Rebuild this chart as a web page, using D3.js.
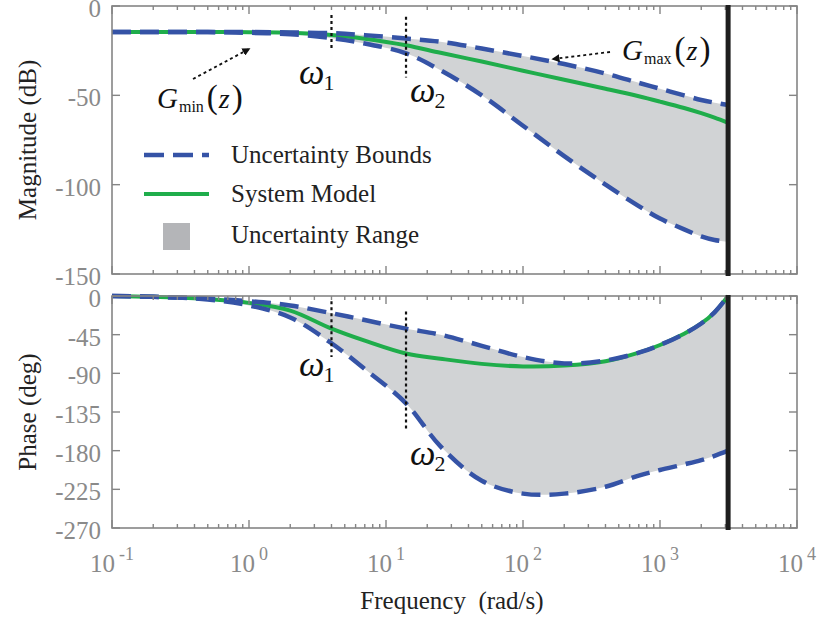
<!DOCTYPE html>
<html>
<head>
<meta charset="utf-8">
<script src="https://cdn.jsdelivr.net/npm/d3@7"></script>
<style>
  body { margin: 0; background: #fff; }
  svg { display: block; }
  svg text { font-family: "Liberation Serif", "Tinos", "Nimbus Roman", "FreeSerif", "Noto Serif", "DejaVu Serif", "Times", serif; }
</style>
</head>
<body>
<svg id="chart" width="817" height="619"></svg>
<script>
// Frequency samples (rad/s) for the Bode data
const freq = [0.1, 0.2, 0.5, 1, 2, 4, 7, 14, 25, 50, 100, 200, 400, 700, 1000, 1500, 2000, 2500, 3141.6];

// Magnitude (dB)
const magUpper = [-14.5, -14.5, -14.5, -14.6, -14.8, -15.2, -16.3, -18.2, -20, -23.8, -28, -32.5, -37.8, -43, -46.3, -50, -52.6, -54.1, -55.4];
const magModel = [-14.5, -14.5, -14.5, -14.7, -15, -16.2, -18.3, -22, -26.2, -31.1, -36.2, -41.3, -46.3, -50.5, -53.5, -57.1, -60, -62.5, -65.4];
const magLower = [-14.5, -14.5, -14.6, -15, -15.8, -18, -21, -26.5, -36, -50, -67, -84, -100, -112, -119, -125, -129, -131, -132];

// Phase (deg)
const phaseUpper = [0, -1, -3, -6, -11, -20, -28, -38, -45, -58, -71, -78.5, -75, -66, -57, -44, -32, -19, 0];
const phaseModel = [0, -1, -3.5, -8, -17, -38, -52, -67, -73, -79, -82, -81, -76, -66, -57, -44, -32, -19, 0];
const phaseLower = [0, -1, -4, -11, -25, -55, -85, -125, -175, -215, -230, -230, -222, -209, -202.5, -196, -191, -186, -180];

// Axis ticks
const magTicks = [0, -50, -100, -150];
const phaseTicks = [0, -45, -90, -135, -180, -225, -270];
const decades = [-1, 0, 1, 2, 3, 4];

// Marked frequencies
const nyquist = 3141.6;
const omega1 = 4;
const omega2 = 14;

const svg = d3.select("#chart");
const axisGray = "#858585";
const labelGray = "#8a8a8a";
const blue = "#3553a6";
const green = "#1fad4b";
const fillGray = "#d1d3d5";

const x = d3.scaleLog().domain([0.1, 1e4]).range([112, 797]);
const yMag = d3.scaleLinear().domain([-150, 0]).range([274, 6]);
const yPh = d3.scaleLinear().domain([-270, 0]).range([528, 296]);

const panels = [
  { y: yMag, upper: magUpper, model: magModel, lower: magLower, ticks: magTicks, title: "Magnitude (dB)" },
  { y: yPh, upper: phaseUpper, model: phaseModel, lower: phaseLower, ticks: phaseTicks, title: "Phase (deg)" }
];

const rows = freq.map((f, i) => ({ f, i }));
const smooth = d3.curveCatmullRom.alpha(0.5);

panels.forEach(p => {
  const [yBot, yTop] = p.y.range();
  const g = svg.append("g");

  // uncertainty band
  g.append("path")
    .datum(rows)
    .attr("fill", fillGray)
    .attr("d", d3.area()
      .curve(smooth)
      .x(d => x(d.f))
      .y0(d => p.y(p.lower[d.i]))
      .y1(d => p.y(p.upper[d.i])));

  // system model
  g.append("path")
    .datum(rows)
    .attr("fill", "none")
    .attr("stroke", green)
    .attr("stroke-width", 4)
    .attr("d", d3.line().curve(smooth).x(d => x(d.f)).y(d => p.y(p.model[d.i])));

  // bounds
  [p.upper, p.lower].forEach(arr => {
    g.append("path")
      .datum(rows)
      .attr("fill", "none")
      .attr("stroke", blue)
      .attr("stroke-width", 4.5)
      .attr("stroke-dasharray", "19,9")
      .attr("d", d3.line().curve(smooth).x(d => x(d.f)).y(d => p.y(arr[d.i])));
  });

  // frame
  g.append("rect")
    .attr("x", x.range()[0]).attr("y", yTop)
    .attr("width", x.range()[1] - x.range()[0]).attr("height", yBot - yTop)
    .attr("fill", "none").attr("stroke", axisGray).attr("stroke-width", 1.6);

  // x ticks (top and bottom, inside)
  const minor = [];
  decades.forEach(k => {
    for (let m = 1; m <= 9; m++) {
      const v = m * Math.pow(10, k);
      if (v >= 0.1 && v <= 1e4) minor.push({ v, major: m === 1 });
    }
  });
  minor.forEach(t => {
    const len = t.major ? 8 : 4;
    const xx = x(t.v);
    g.append("line").attr("x1", xx).attr("x2", xx).attr("y1", yBot).attr("y2", yBot - len)
      .attr("stroke", axisGray).attr("stroke-width", 1.4);
    g.append("line").attr("x1", xx).attr("x2", xx).attr("y1", yTop).attr("y2", yTop + len)
      .attr("stroke", axisGray).attr("stroke-width", 1.4);
  });

  // y ticks and labels
  p.ticks.forEach(t => {
    const yy = p.y(t);
    g.append("line").attr("x1", 112).attr("x2", 120).attr("y1", yy).attr("y2", yy)
      .attr("stroke", axisGray).attr("stroke-width", 1.4);
    g.append("line").attr("x1", 797).attr("x2", 789).attr("y1", yy).attr("y2", yy)
      .attr("stroke", axisGray).attr("stroke-width", 1.4);
    g.append("text").attr("x", 101).attr("y", yy + 11)
      .attr("text-anchor", "end").attr("font-size", 25).attr("fill", labelGray)
      .text(t);
  });

  // axis title
  svg.append("text")
    .attr("transform", `translate(36,${(yTop + yBot) / 2}) rotate(-90)`)
    .attr("text-anchor", "middle").attr("font-size", 25).attr("fill", "#222")
    .text(p.title);

  // Nyquist line
  g.append("line")
    .attr("x1", x(nyquist)).attr("x2", x(nyquist))
    .attr("y1", yTop - 1).attr("y2", yBot + 2)
    .attr("stroke", "#1e1e1e").attr("stroke-width", 5);
});

// x tick labels (decades)
decades.forEach(k => {
  const t = svg.append("text")
    .attr("y", 572).attr("font-size", 25).attr("fill", labelGray)
    .attr("text-anchor", "middle")
    .attr("x", x(Math.pow(10, k)));
  t.append("tspan").text("10");
  t.append("tspan").attr("dx", 4).attr("dy", -12).attr("font-size", 18).text(k);
});

// x axis title
svg.append("text")
  .attr("x", 452).attr("y", 609)
  .attr("text-anchor", "middle").attr("font-size", 25).attr("fill", "#222")
  .attr("xml:space", "preserve")
  .text("Frequency  (rad/s)");

// dotted markers at omega1 / omega2
const markers = [
  { f: omega1, y1: yMag(-5), y2: yMag(-25), sub: "1", lx: 299, ly: 84 },
  { f: omega2, y1: yMag(-6), y2: yMag(-40), sub: "2", lx: 410, ly: 102 },
  { f: omega1, y1: yPh(-6), y2: yPh(-71), sub: "1", lx: 299, ly: 376 },
  { f: omega2, y1: yPh(-18), y2: yPh(-155), sub: "2", lx: 410, ly: 465 }
];
markers.forEach(m => {
  svg.append("line")
    .attr("x1", x(m.f)).attr("x2", x(m.f)).attr("y1", m.y1).attr("y2", m.y2)
    .attr("stroke", "#111").attr("stroke-width", 2.2).attr("stroke-dasharray", "3,3");
  const t = svg.append("text").attr("x", m.lx).attr("y", m.ly).attr("fill", "#111");
  t.append("tspan").attr("font-size", 36).attr("font-style", "italic").text("ω");
  t.append("tspan").attr("font-size", 22).attr("dy", 6).attr("dx", -1).text(m.sub);
});

// arrowhead
svg.append("defs").append("marker")
  .attr("id", "ah").attr("viewBox", "0 0 10 10").attr("refX", 8).attr("refY", 5)
  .attr("markerWidth", 4.5).attr("markerHeight", 4.5).attr("orient", "auto")
  .append("path").attr("d", "M0,0 L10,5 L0,10 z").attr("fill", "#111");

// G_min / G_max annotations
function gLabel(x0, y0, sub) {
  const t = svg.append("text").attr("x", x0).attr("y", y0).attr("fill", "#111");
  t.append("tspan").attr("font-size", 29).attr("font-style", "italic").text("G");
  t.append("tspan").attr("font-size", 16).attr("dy", 4).attr("dx", 1).text(sub);
  t.append("tspan").attr("font-size", 33).attr("dy", -4).attr("dx", 3).text("(");
  t.append("tspan").attr("font-size", 28).attr("font-style", "italic").attr("dx", 1).text("z");
  t.append("tspan").attr("font-size", 33).attr("dx", 2).text(")");
}
gLabel(157, 108, "min");
gLabel(622, 60, "max");

svg.append("line").attr("x1", 193).attr("y1", 79).attr("x2", 249).attr("y2", 49)
  .attr("stroke", "#111").attr("stroke-width", 1.8).attr("stroke-dasharray", "3,3")
  .attr("marker-end", "url(#ah)");
svg.append("line").attr("x1", 610).attr("y1", 52).attr("x2", 553).attr("y2", 59)
  .attr("stroke", "#111").attr("stroke-width", 1.8).attr("stroke-dasharray", "3,3")
  .attr("marker-end", "url(#ah)");

// legend
const legend = svg.append("g");
legend.append("line").attr("x1", 144).attr("x2", 209).attr("y1", 155).attr("y2", 155)
  .attr("stroke", blue).attr("stroke-width", 4.5).attr("stroke-dasharray", "20,9");
legend.append("line").attr("x1", 144).attr("x2", 209).attr("y1", 194).attr("y2", 194)
  .attr("stroke", green).attr("stroke-width", 4);
legend.append("rect").attr("x", 163).attr("y", 223).attr("width", 27).attr("height", 27)
  .attr("fill", "#b4b5b8");
[["Uncertainty Bounds", 163], ["System Model", 202], ["Uncertainty Range", 243]].forEach(([s, yy]) => {
  legend.append("text").attr("x", 231).attr("y", yy).attr("font-size", 25).attr("fill", "#222").text(s);
});
</script>
</body>
</html>
